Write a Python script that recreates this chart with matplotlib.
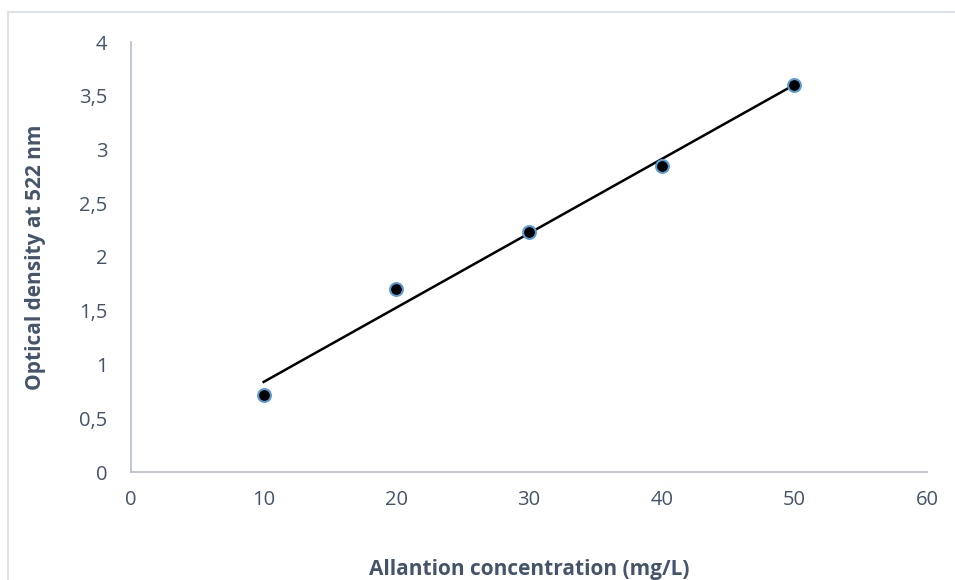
import numpy as np
import matplotlib
matplotlib.use("Agg")
import matplotlib.pyplot as plt
from matplotlib.patches import Rectangle
from matplotlib.ticker import FuncFormatter

# Calibration points
concentration = [10, 20, 30, 40, 50]
optical_density = [0.72, 1.70, 2.23, 2.85, 3.60]

x_ticks = [0, 10, 20, 30, 40, 50, 60]
y_ticks = [0, 0.5, 1, 1.5, 2, 2.5, 3, 3.5, 4]

text_col = "#44546a"
spine_col = "#b4bccb"

plt.rcParams["font.family"] = ["Open Sans", "DejaVu Sans"]

fig = plt.figure(figsize=(9.55, 5.8), dpi=100)
ax = fig.add_axes([131 / 955, 108 / 580, 796 / 955, 430 / 580])

# outer chart frame, like Excel's chart area border
fig.patches.append(Rectangle((8 / 955, -0.05), 1.0, 1.05 - 12 / 580, transform=fig.transFigure,
                             fill=False, edgecolor="#dde2e8", linewidth=1.5, zorder=0))

# linear trendline over the data range
coef = np.polyfit(concentration, optical_density, 1)
xs = np.array([min(concentration), max(concentration)])
ax.plot(xs, np.polyval(coef, xs), color="black", linewidth=1.8, zorder=2)

ax.scatter(concentration, optical_density, s=85, color="black",
           edgecolor="#5b9bd5", linewidth=1.5, zorder=3)

ax.set_xlim(0, 60)
ax.set_ylim(0, 4)
ax.set_xticks(x_ticks)
ax.set_yticks(y_ticks)
fmt = FuncFormatter(lambda v, p: f"{v:g}".replace(".", ","))
ax.yaxis.set_major_formatter(fmt)
ax.xaxis.set_major_formatter(fmt)
ax.tick_params(length=0, labelsize=14.5, colors=text_col)
ax.tick_params(axis="x", pad=13)
ax.tick_params(axis="y", pad=17)

for s in ("top", "right"):
    ax.spines[s].set_visible(False)
for s in ("left", "bottom"):
    ax.spines[s].set_color(spine_col)
    ax.spines[s].set_linewidth(1.2)

ax.set_xlabel("Allantion concentration (mg/L)", fontsize=15, fontweight="bold",
              color=text_col, labelpad=35)
ax.set_ylabel("Optical density at 522 nm", fontsize=15, fontweight="bold",
              color=text_col, labelpad=24)

fig.savefig("out.png", dpi=100)
